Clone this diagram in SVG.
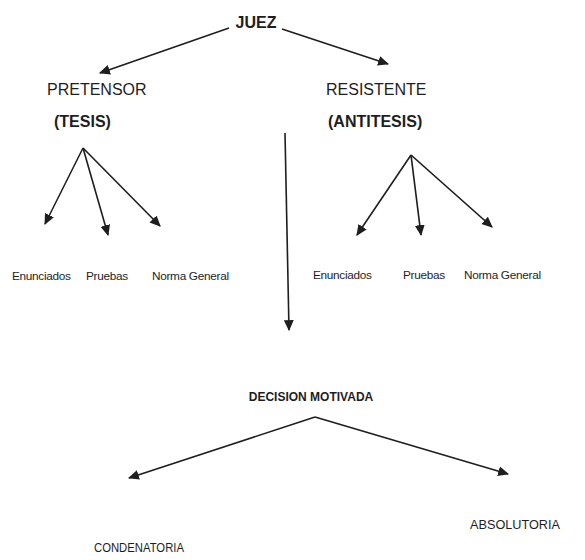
<svg xmlns="http://www.w3.org/2000/svg" width="585" height="560" viewBox="0 0 585 560">
<defs>
<marker id="ah" viewBox="0 0 10 10" refX="9" refY="5" markerWidth="11" markerHeight="11" markerUnits="userSpaceOnUse" orient="auto">
<path d="M0,0.5 L10,5 L0,9.5 z" fill="#1e1e1e"/>
</marker>
<style>
text{font-family:"Liberation Sans",Arial,sans-serif;fill:#1e1e1e}
.b{font-weight:bold}
.big{font-size:16px}
.sm{font-size:11.8px;letter-spacing:-0.3px}
.md{font-size:13.5px}
.conn line{stroke:#1e1e1e;stroke-width:1.6;marker-end:url(#ah)}
</style>
</defs>
<rect width="585" height="560" fill="#fff"/>
<g id="juez"><text x="256" y="28" class="b big" text-anchor="middle">JUEZ</text></g>
<g id="pretensor"><text x="47" y="95" class="big" font-size="17">PRETENSOR</text><text x="54" y="127" class="b big">(TESIS)</text></g>
<g id="resistente"><text x="326" y="95" class="big">RESISTENTE</text><text x="328" y="127" class="b big">(ANTITESIS)</text></g>
<g id="left-items">
<text x="12" y="280" class="sm">Enunciados</text>
<text x="86" y="280" class="sm">Pruebas</text>
<text x="152" y="280" class="sm">Norma General</text>
</g>
<g id="right-items">
<text x="313" y="279" class="sm">Enunciados</text>
<text x="403" y="279" class="sm">Pruebas</text>
<text x="464" y="279" class="sm">Norma General</text>
</g>
<g id="decision"><text x="311" y="401" class="b" font-size="12" text-anchor="middle">DECISION MOTIVADA</text></g>
<g id="condenatoria"><text x="94" y="552" class="md" font-size="14" textLength="90" lengthAdjust="spacingAndGlyphs">CONDENATORIA</text></g>
<g id="absolutoria"><text x="470" y="529" class="md" textLength="90" lengthAdjust="spacingAndGlyphs">ABSOLUTORIA</text></g>
<g class="conn" id="connectors">
<line x1="229" y1="28" x2="100" y2="73"/>
<line x1="282" y1="29" x2="388" y2="64"/>
<line x1="285" y1="133" x2="289" y2="330"/>
<line x1="83" y1="148" x2="45" y2="224"/>
<line x1="83" y1="148" x2="108" y2="235"/>
<line x1="83" y1="148" x2="160" y2="226"/>
<line x1="411" y1="155" x2="357" y2="235"/>
<line x1="411" y1="155" x2="421" y2="235"/>
<line x1="411" y1="155" x2="492" y2="227"/>
<line x1="315" y1="417" x2="129" y2="478"/>
<line x1="315" y1="417" x2="508" y2="474"/>
</g>
</svg>
